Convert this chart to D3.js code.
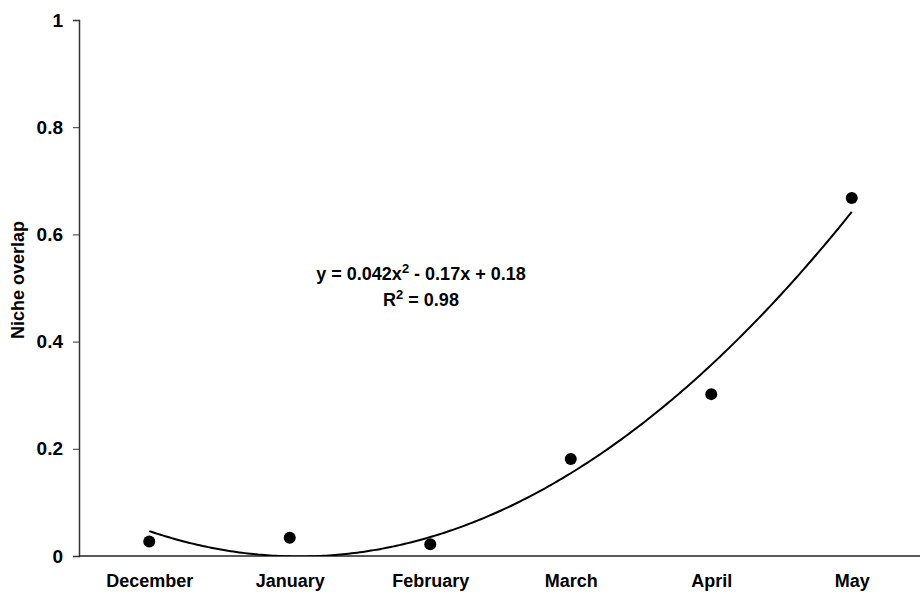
<!DOCTYPE html>
<html>
<head>
<meta charset="utf-8">
<script src="https://cdn.jsdelivr.net/npm/d3@7"></script>
<style>
  body { margin: 0; background: #fff; }
  text { font-family: "Liberation Sans", Arial, sans-serif; font-weight: bold; fill: #000; }
</style>
</head>
<body>
<div id="chart"></div>
<script>
const months = ["December", "January", "February", "March", "April", "May"]
const overlap = [0.027, 0.034, 0.022, 0.181, 0.302, 0.668]
const yTicks = [0, 0.2, 0.4, 0.6, 0.8, 1]

const WIDTH = 920
const HEIGHT = 593
const MARGIN = {top: 20, right: 0, bottom: 37, left: 79}

const svg = d3.select("#chart")
  .append("svg")
  .attr("width", WIDTH)
  .attr("height", HEIGHT)

const xScale = d3.scalePoint()
  .domain(months)
  .range([MARGIN.left, 922])
  .padding(0.5)

const yScale = d3.scaleLinear()
  .domain([0, 1])
  .range([HEIGHT - MARGIN.bottom, MARGIN.top])

// month index (1..6) -> pixel, for the trend line
const xIdx = d3.scaleLinear()
  .domain([1, months.length])
  .range([xScale(months[0]), xScale(months[months.length - 1])])

// least squares quadratic fit of the points (the trendline)
function quadFit(xs, ys) {
  let s = [0, 0, 0, 0, 0], t = [0, 0, 0]
  xs.forEach((x, i) => {
    for (let k = 0; k < 5; k++) s[k] += Math.pow(x, k)
    for (let k = 0; k < 3; k++) t[k] += Math.pow(x, k) * ys[i]
  })
  const M = [[s[0], s[1], s[2], t[0]], [s[1], s[2], s[3], t[1]], [s[2], s[3], s[4], t[2]]]
  for (let i = 0; i < 3; i++) {
    for (let j = i + 1; j < 3; j++) {
      const f = M[j][i] / M[i][i]
      for (let k = i; k < 4; k++) M[j][k] -= f * M[i][k]
    }
  }
  const c = [0, 0, 0]
  for (let i = 2; i >= 0; i--) {
    let v = M[i][3]
    for (let k = i + 1; k < 3; k++) v -= M[i][k] * c[k]
    c[i] = v / M[i][i]
  }
  return c // [c0, c1, c2]
}

const idx = months.map((_, i) => i + 1)
const coef = quadFit(idx, overlap)
const fitPts = d3.range(1, months.length + 0.001, 0.02)
  .map(x => [x, coef[0] + coef[1] * x + coef[2] * x * x])

const FONT = "Liberation Sans, Arial, sans-serif"

// y axis
const yAxis = svg.append("g")
  .attr("transform", "translate(" + MARGIN.left + ",0)")
  .call(d3.axisLeft(yScale).tickValues(yTicks).tickFormat(d => d).tickSize(6).tickPadding(10))
yAxis.select(".domain").attr("stroke", "#333").attr("stroke-width", 1.5)
yAxis.selectAll(".tick line").attr("stroke", "#333")
yAxis.selectAll(".tick text").style("font-size", "19px").style("font-weight", "bold").style("font-family", FONT)

// x axis
const xAxis = svg.append("g")
  .attr("transform", "translate(0," + yScale(0) + ")")
  .call(d3.axisBottom(xScale).tickSize(0).tickPadding(18))
xAxis.select(".domain")
  .attr("d", "M" + MARGIN.left + ",0H" + WIDTH)
  .attr("stroke", "#222").attr("stroke-width", 1.5)
xAxis.selectAll(".tick text").style("font-size", "18px").style("font-weight", "bold").style("font-family", FONT)

// y label
svg.append("text")
  .attr("transform", "translate(24,280) rotate(-90)")
  .attr("text-anchor", "middle")
  .style("font-size", "18px")
  .text("Niche overlap")

// trend line, clipped at the x axis
svg.append("clipPath").attr("id", "plotClip")
  .append("rect")
  .attr("x", MARGIN.left).attr("y", 0)
  .attr("width", WIDTH - MARGIN.left).attr("height", yScale(0))

svg.append("path")
  .datum(fitPts)
  .attr("clip-path", "url(#plotClip)")
  .attr("fill", "none")
  .attr("stroke", "#000")
  .attr("stroke-width", 2)
  .attr("d", d3.line().x(d => xIdx(d[0])).y(d => yScale(d[1])))

// points
svg.selectAll("circle.pt")
  .data(overlap)
  .enter()
  .append("circle")
  .attr("class", "pt")
  .attr("cx", (d, i) => xScale(months[i]))
  .attr("cy", d => yScale(d))
  .attr("r", 6)
  .attr("fill", "#000")

// equation
const eq = svg.append("text")
  .attr("x", 421).attr("y", 280)
  .attr("text-anchor", "middle")
  .style("font-size", "18px")
eq.append("tspan").text("y = 0.042x")
eq.append("tspan").attr("dy", -7).style("font-size", "13px").text("2")
eq.append("tspan").attr("dy", 7).text(" - 0.17x + 0.18")

const r2 = svg.append("text")
  .attr("x", 421).attr("y", 306)
  .attr("text-anchor", "middle")
  .style("font-size", "18px")
r2.append("tspan").text("R")
r2.append("tspan").attr("dy", -7).style("font-size", "13px").text("2")
r2.append("tspan").attr("dy", 7).text(" = 0.98")
</script>
</body>
</html>
